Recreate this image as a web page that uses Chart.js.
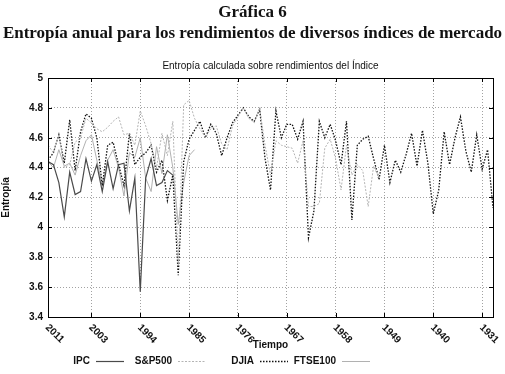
<!DOCTYPE html>
<html>
<head>
<meta charset="utf-8">
<script src="https://cdn.jsdelivr.net/npm/chart.js"></script>
<style>
    body { margin: 0; background: #fff; }
    #wrap { position: relative; width: 505px; height: 374px; }
    #chart { position: absolute; left: 0; top: 0; }
    #head {
        position: absolute; left: 0; top: 1px; width: 505px; text-align: center;
        font-family: "Liberation Serif", serif; font-weight: bold; font-size: 17px;
        line-height: 21px; color: #111;
    }
</style>
</head>
<body>
<div id="wrap">
    <canvas id="chart" width="505" height="374"></canvas>
    <div id="head">
        <div>Gráfica 6</div>
        <div>Entropía anual para los rendimientos de diversos índices de mercado</div>
    </div>
</div>
<script>
const years = [2011, 2010, 2009, 2008, 2007, 2006, 2005, 2004, 2003, 2002,
    2001, 2000, 1999, 1998, 1997, 1996, 1995, 1994, 1993, 1992,
    1991, 1990, 1989, 1988, 1987, 1986, 1985, 1984, 1983, 1982,
    1981, 1980, 1979, 1978, 1977, 1976, 1975, 1974, 1973, 1972,
    1971, 1970, 1969, 1968, 1967, 1966, 1965, 1964, 1963, 1962,
    1961, 1960, 1959, 1958, 1957, 1956, 1955, 1954, 1953, 1952,
    1951, 1950, 1949, 1948, 1947, 1946, 1945, 1944, 1943, 1942,
    1941, 1940, 1939, 1938, 1937, 1936, 1935, 1934, 1933, 1932,
    1931, 1930, 1929];
const xTicks = [2011, 2003, 1994, 1985, 1976, 1967, 1958, 1949, 1940, 1931];

// series start at 2011 and go back in time
const ipc = [4.44, 4.42, 4.30, 4.07, 4.37, 4.22, 4.24, 4.46, 4.31, 4.42,
    4.24, 4.44, 4.26, 4.42, 4.43, 4.11, 4.33, 3.57, 4.33, 4.46,
    4.28, 4.30, 4.38, 4.35];
const sp500 = [4.55, 4.50, 4.62, 4.40, 4.42, 4.57, 4.60, 4.73, 4.70, 4.66,
    4.64, 4.67, 4.71, 4.74, 4.62, 4.63, 4.55, 4.78, 4.68, 4.56,
    4.40, 4.63, 4.48, 4.71, 3.75, 4.82, 4.85, 4.73, 4.66, 4.60,
    4.66, 4.68, 4.56, 4.52, 4.68, 4.74, 4.80, 4.73, 4.70, 4.80,
    4.55, 4.35, 4.58, 4.55, 4.54, 4.53, 4.43, 4.58, 4.14, 4.14,
    4.16, 4.53, 4.59, 4.46, 4.25, 4.55, 4.35, 4.42, 4.38, 4.14,
    4.41, 4.33];
const djia = [4.45, 4.50, 4.62, 4.43, 4.72, 4.38, 4.64, 4.76, 4.73, 4.60,
    4.28, 4.55, 4.57, 4.42, 4.28, 4.63, 4.42, 4.47, 4.50, 4.55,
    4.37, 4.45, 4.18, 4.35, 3.68, 4.44, 4.59, 4.65, 4.71, 4.60,
    4.69, 4.63, 4.48, 4.60, 4.70, 4.75, 4.80, 4.74, 4.71, 4.79,
    4.46, 4.25, 4.78, 4.60, 4.69, 4.69, 4.59, 4.71, 3.93, 4.11,
    4.71, 4.60, 4.69, 4.58, 4.42, 4.71, 4.05, 4.55, 4.59, 4.61,
    4.46, 4.32, 4.55, 4.30, 4.45, 4.37, 4.49, 4.63, 4.41, 4.65,
    4.43, 4.09, 4.25, 4.64, 4.42, 4.60, 4.74, 4.51, 4.37, 4.62,
    4.39, 4.52, 4.13];
const ftse100 = [4.44, 4.40, 4.52, 4.41, 4.43, 4.35, 4.48, 4.58, 4.62, 4.45,
    4.28, 4.45, 4.52, 4.40, 4.21, 4.50, 4.47, 4.60, 4.33, 4.24,
    4.54, 4.36, 4.62, 4.40, 4.02, 4.30, 4.48, 4.52];

const toPoints = vals => vals.map((v, i) => ({ x: years[i], y: v }));

const decor = {
    id: 'decor',
    afterDraw(chart) {
        const { ctx, chartArea: a, scales: { x, y } } = chart;
        ctx.save();
        ctx.setLineDash([]);
        ctx.strokeStyle = '#000';
        ctx.lineWidth = 1;
        ctx.strokeRect(a.left + 0.5, a.top + 0.5, a.right - a.left, a.bottom - a.top);

        // small inner tick marks, gnuplot style
        ctx.beginPath();
        x.ticks.forEach(t => {
            const px = Math.round(x.getPixelForValue(t.value)) + 0.5;
            ctx.moveTo(px, a.top); ctx.lineTo(px, a.top + 4);
            ctx.moveTo(px, a.bottom); ctx.lineTo(px, a.bottom - 4);
        });
        y.ticks.forEach(t => {
            const py = Math.round(y.getPixelForValue(t.value)) + 0.5;
            ctx.moveTo(a.left, py); ctx.lineTo(a.left + 4, py);
            ctx.moveTo(a.right, py); ctx.lineTo(a.right - 4, py);
        });
        ctx.stroke();

        // slanted year labels
        ctx.fillStyle = '#111';
        ctx.font = 'bold 10px "Liberation Sans"';
        ctx.textAlign = 'left';
        ctx.textBaseline = 'middle';
        xTicks.forEach(v => {
            const px = x.getPixelForValue(v);
            ctx.save();
            ctx.translate(px - 1, a.bottom + 9);
            ctx.rotate(Math.PI / 4);
            ctx.fillText(String(v), 0, 0);
            ctx.restore();
        });

        ctx.textAlign = 'center';
        ctx.fillText('Tiempo', (a.left + a.right) / 2, 345);
        ctx.font = '10px "Liberation Sans"';
        ctx.fillText('Entropía calculada sobre rendimientos del Índice', (a.left + a.right) / 2, 66);

        // key at the bottom: label then line sample
        ctx.font = 'bold 10px "Liberation Sans"';
        chart.data.datasets.forEach((ds, i) => {
            const lx = 96 + i * 82;
            const ly = 361;
            ctx.textAlign = 'right';
            ctx.fillStyle = '#111';
            ctx.fillText(ds.label, lx - 6, ly);
            ctx.strokeStyle = ds.borderColor;
            ctx.lineWidth = ds.borderWidth;
            ctx.setLineDash(ds.borderDash || []);
            ctx.beginPath();
            ctx.moveTo(lx, ly + 0.5);
            ctx.lineTo(lx + 28, ly + 0.5);
            ctx.stroke();
        });
        ctx.restore();
    }
};

new Chart(document.getElementById('chart'), {
    type: 'line',
    data: {
        datasets: [
            { label: 'IPC', data: toPoints(ipc), borderColor: '#4a4a4a', borderWidth: 1.2 },
            { label: 'S&P500', data: toPoints(sp500), borderColor: '#b4b4b4', borderWidth: 1, borderDash: [2, 1.5] },
            { label: 'DJIA', data: toPoints(djia), borderColor: '#111', borderWidth: 1.3, borderDash: [1.5, 1.5] },
            { label: 'FTSE100', data: toPoints(ftse100), borderColor: '#a8a8a8', borderWidth: 0.9 }
        ]
    },
    options: {
        responsive: false,
        animation: false,
        elements: { point: { radius: 0 }, line: { tension: 0 } },
        layout: { padding: { top: 78, right: 12, bottom: 57, left: 0 } },
        plugins: {
            legend: { display: false },
            tooltip: { enabled: false }
        },
        scales: {
            x: {
                type: 'linear',
                reverse: true,
                min: 1929,
                max: 2011,
                afterBuildTicks: s => { s.ticks = xTicks.map(v => ({ value: v })); },
                afterFit: s => { s.height = 0; },
                ticks: { display: false },
                grid: { color: '#8a8a8a', lineWidth: 0.8, drawTicks: false },
                border: { display: false, dash: [1, 2] }
            },
            y: {
                min: 3.4,
                max: 5,
                afterFit: s => { s.width = 48; },
                ticks: {
                    stepSize: 0.2,
                    padding: 5,
                    color: '#111',
                    font: { family: 'Liberation Sans', size: 10, weight: 'bold' },
                    callback: v => String(Math.round(v * 10) / 10)
                },
                title: {
                    display: true,
                    text: 'Entropía',
                    color: '#111',
                    font: { family: 'Liberation Sans', size: 10, weight: 'bold' },
                    padding: { top: 0, bottom: 0 }
                },
                grid: { color: '#8a8a8a', lineWidth: 0.8, drawTicks: false },
                border: { display: false, dash: [1, 2] }
            }
        }
    },
    plugins: [decor]
});
</script>
</body>
</html>
